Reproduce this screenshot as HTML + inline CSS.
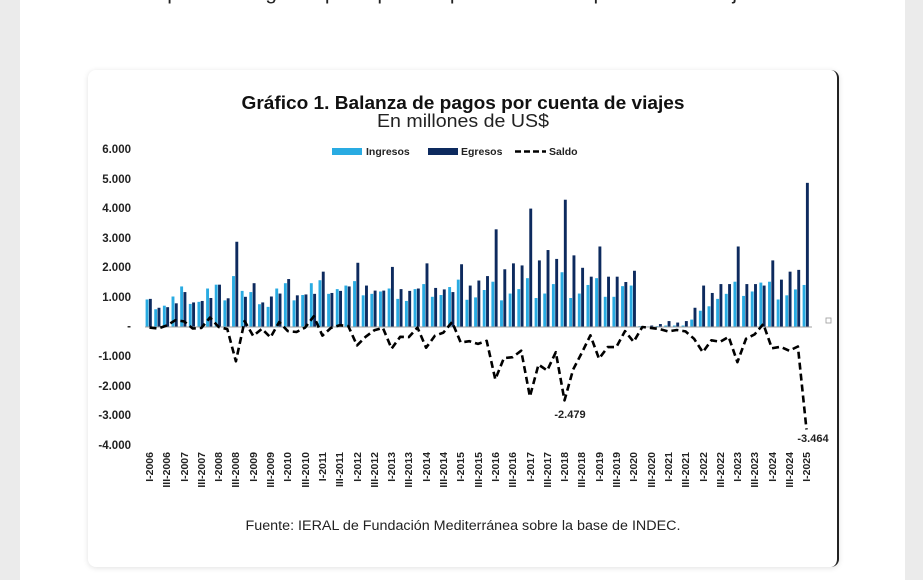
<!DOCTYPE html>
<html><head><meta charset="utf-8">
<style>
html,body{margin:0;padding:0;width:923px;height:580px;overflow:hidden;background:#ebebeb;font-family:"Liberation Sans",sans-serif;}
#wrap{position:absolute;left:20px;top:0;width:885px;height:580px;background:#fff;}
#toptext{position:absolute;left:0;width:923px;top:-19px;text-align:center;font-size:21px;color:#222;white-space:nowrap;}
#card{position:absolute;left:88px;top:70px;width:749px;height:497px;background:#fff;border-radius:8px;box-shadow:0 1px 6px rgba(0,0,0,0.12);border-right:2px solid #222;}
svg{position:absolute;left:0;top:0;}
</style></head><body>
<div id="wrap"></div>
<div id="toptext">puede imaginar que aquellos que estaban en posición de viajar</div>
<div id="card"></div>
<svg width="923" height="580" xmlns="http://www.w3.org/2000/svg" font-family="Liberation Sans, sans-serif">
<text x="463" y="109" text-anchor="middle" font-size="18.5" font-weight="bold" fill="#111" textLength="443" lengthAdjust="spacingAndGlyphs">Gráfico 1. Balanza de pagos por cuenta de viajes</text>
<text x="463" y="127" text-anchor="middle" font-size="18" fill="#222" textLength="172" lengthAdjust="spacingAndGlyphs">En millones de US$</text>
<rect x="332" y="148" width="30" height="7" fill="#29abe2"/>
<text x="366" y="155" font-size="10.5" font-weight="bold" fill="#222">Ingresos</text>
<rect x="428" y="148" width="30" height="7" fill="#0d2a5e"/>
<text x="461" y="155" font-size="10.5" font-weight="bold" fill="#222">Egresos</text>
<line x1="515" y1="151.5" x2="546" y2="151.5" stroke="#000" stroke-width="2.5" stroke-dasharray="6,3"/>
<text x="549" y="155" font-size="10.5" font-weight="bold" fill="#222">Saldo</text>
<g font-size="11.5" font-weight="bold" fill="#222" text-anchor="end">
<text x="131" y="153">6.000</text><text x="131" y="183">5.000</text><text x="131" y="212">4.000</text>
<text x="131" y="242">3.000</text><text x="131" y="271">2.000</text><text x="131" y="301">1.000</text>
<text x="131" y="330">-</text><text x="131" y="360">-1.000</text><text x="131" y="390">-2.000</text>
<text x="131" y="419">-3.000</text><text x="131" y="449">-4.000</text>
</g>
<g id="bars"></g>
<line x1="145" y1="327" x2="812" y2="327" stroke="#a0a0a0" stroke-width="1"/>
<path id="saldo" fill="none" stroke="#000" stroke-width="2.6" stroke-dasharray="7,4" stroke-linejoin="round"/>
<text x="570" y="418" text-anchor="middle" font-size="11" font-weight="bold" fill="#222">-2.479</text>
<text x="813" y="442" text-anchor="middle" font-size="11" font-weight="bold" fill="#222">-3.464</text>
<rect x="826" y="318" width="5" height="5" fill="none" stroke="#999" stroke-width="0.8"/>
<g id="xl" font-size="10.5" font-weight="bold" fill="#222" text-anchor="end">
<text transform="translate(153,452) rotate(-90)">I-2006</text>
<text transform="translate(170,452) rotate(-90)">III-2006</text>
<text transform="translate(188,452) rotate(-90)">I-2007</text>
<text transform="translate(205,452) rotate(-90)">III-2007</text>
<text transform="translate(222,452) rotate(-90)">I-2008</text>
<text transform="translate(239,452) rotate(-90)">III-2008</text>
<text transform="translate(257,452) rotate(-90)">I-2009</text>
<text transform="translate(274,452) rotate(-90)">III-2009</text>
<text transform="translate(291,452) rotate(-90)">I-2010</text>
<text transform="translate(309,452) rotate(-90)">III-2010</text>
<text transform="translate(326,452) rotate(-90)">I-2011</text>
<text transform="translate(343,452) rotate(-90)">III-2011</text>
<text transform="translate(361,452) rotate(-90)">I-2012</text>
<text transform="translate(378,452) rotate(-90)">III-2012</text>
<text transform="translate(395,452) rotate(-90)">I-2013</text>
<text transform="translate(412,452) rotate(-90)">III-2013</text>
<text transform="translate(430,452) rotate(-90)">I-2014</text>
<text transform="translate(447,452) rotate(-90)">III-2014</text>
<text transform="translate(464,452) rotate(-90)">I-2015</text>
<text transform="translate(482,452) rotate(-90)">III-2015</text>
<text transform="translate(499,452) rotate(-90)">I-2016</text>
<text transform="translate(516,452) rotate(-90)">III-2016</text>
<text transform="translate(534,452) rotate(-90)">I-2017</text>
<text transform="translate(551,452) rotate(-90)">III-2017</text>
<text transform="translate(568,452) rotate(-90)">I-2018</text>
<text transform="translate(585,452) rotate(-90)">III-2018</text>
<text transform="translate(603,452) rotate(-90)">I-2019</text>
<text transform="translate(620,452) rotate(-90)">III-2019</text>
<text transform="translate(637,452) rotate(-90)">I-2020</text>
<text transform="translate(655,452) rotate(-90)">III-2020</text>
<text transform="translate(672,452) rotate(-90)">I-2021</text>
<text transform="translate(689,452) rotate(-90)">III-2021</text>
<text transform="translate(707,452) rotate(-90)">I-2022</text>
<text transform="translate(724,452) rotate(-90)">III-2022</text>
<text transform="translate(741,452) rotate(-90)">I-2023</text>
<text transform="translate(758,452) rotate(-90)">III-2023</text>
<text transform="translate(776,452) rotate(-90)">I-2024</text>
<text transform="translate(793,452) rotate(-90)">III-2024</text>
<text transform="translate(810,452) rotate(-90)">I-2025</text>
</g>
<text x="463" y="530" text-anchor="middle" font-size="13.5" fill="#222" textLength="435" lengthAdjust="spacingAndGlyphs">Fuente: IERAL de Fundación Mediterránea sobre la base de INDEC.</text>
</svg>
<script>
var d=[[.93,.95],[.6,.65],[.72,.67],[1.03,.8],[1.37,1.18],[.78,.83],[.85,.88],[1.3,.98],[1.43,1.43],[.9,.97],[1.72,2.88],[1.22,1.02],[1.18,1.48],[.77,.83],[.68,1.03],[1.3,1.13],[1.48,1.62],[.9,1.07],[1.08,1.1],[1.48,1.12],[1.58,1.87],[1.12,1.15],[1.28,1.22],[1.4,1.37],[1.55,2.17],[1.07,1.4],[1.12,1.23],[1.2,1.23],[1.3,2.03],[.95,1.28],[.88,1.22],[1.28,1.3],[1.45,2.15],[1.02,1.32],[1.08,1.27],[1.35,1.18],
[1.6,2.12],[.92,1.4],[1.0,1.57],[1.25,1.72],[1.53,3.3],[.9,1.95],[1.13,2.15],[1.28,2.08],[1.65,4.0],[.98,2.25],[1.13,2.6],[1.45,2.3],[1.85,4.3],[.98,2.42],[1.13,2.0],[1.42,1.7],[1.65,2.72],[1.02,1.7],[1.02,1.7],[1.38,1.52],[1.4,1.9],[.03,.03],[.02,.05],[.03,.1],[.05,.2],[.05,.15],[.05,.2],[.25,.65],[.55,1.4],[.7,1.15],[.95,1.45],[1.12,1.45],[1.53,2.72],[1.05,1.45],[1.2,1.45],[1.5,1.4],[1.53,2.25],[.93,1.6],[1.07,1.87],[1.27,1.93],[1.42,4.87]];
var ns="http://www.w3.org/2000/svg",g=document.getElementById('bars'),Z=327,K=29.6,p="";
for(var i=0;i<d.length;i++){var cx=149+i*8.645;
[[d[i][0],cx-3.4,'#29abe2'],[d[i][1],cx-0.1,'#0d2a5e']].forEach(function(b){var r=document.createElementNS(ns,'rect');var h=b[0]*K;r.setAttribute('x',b[1]);r.setAttribute('y',Z-h);r.setAttribute('width',2.9);r.setAttribute('height',h);r.setAttribute('fill',b[2]);g.appendChild(r);});
var s=d[i][0]-d[i][1];if(i==48)s=-2.479;if(i==76)s=-3.464;
p+=(i?"L":"M")+(cx+0.5).toFixed(1)+","+(Z-s*K).toFixed(1);}
document.getElementById('saldo').setAttribute('d',p);
</script>
</body></html>
